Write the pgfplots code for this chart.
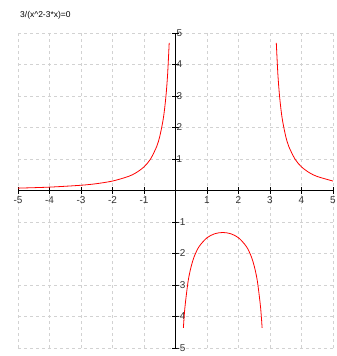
\documentclass[border=0pt]{standalone}
\usepackage{pgfplots}
\pgfplotsset{compat=1.18}
\usepackage{fontspec}
\setmainfont{Liberation Sans}
\begin{document}
\begin{tikzpicture}[x=1bp,y=1bp]
\useasboundingbox (0,0) rectangle (337,356);
\node[anchor=west, inner sep=0pt, font=\fontsize{8.5}{9}\selectfont] at (20,341) {3/(x\textasciicircum 2-3*x)=0};
\begin{axis}[
  at={(18bp,8bp)}, anchor=south west,
  scale only axis, width=315bp, height=315bp,
  xmin=-5, xmax=5, ymin=-5, ymax=5,
  axis lines=middle,
  axis line style={black, line width=1.1pt, -},
  xtick={-5,-4,-3,-2,-1,1,2,3,4,5},
  ytick={-5,-4,-3,-2,-1,1,2,3,4,5},
  tick align=center,
  major tick length=7bp,
  tick style={black, line width=0.8pt},
  grid=major,
  grid style={gray!35, dash pattern=on 3bp off 3bp, line width=0.6pt},
  /pgf/number format/assume math mode=true,
  ticklabel style={font=\fontsize{10}{11}\selectfont, text=black!80},
  xticklabel style={anchor=north, yshift=1bp},
  yticklabel style={anchor=west, xshift=1bp},
  clip=false,
]
\addplot[red, line width=0.8pt, smooth] coordinates {
  (-5,0.075) (-4,0.1071) (-3,0.1667) (-2.5,0.2182) (-2,0.3) (-1.5,0.4444)
  (-1.25,0.5647) (-1,0.75) (-0.8,0.9868) (-0.6,1.3889) (-0.5,1.7143)
  (-0.4,2.2059) (-0.35,2.5586) (-0.3,3.0303) (-0.25,3.6923) (-0.2,4.6875)
};
\addplot[red, line width=0.8pt, smooth] coordinates {
  (0.25,-4.3636) (0.3,-3.7037) (0.4,-2.8846) (0.5,-2.4) (0.6,-2.0833)
  (0.75,-1.7778) (1,-1.5) (1.25,-1.3714) (1.5,-1.3333) (1.75,-1.3714)
  (2,-1.5) (2.25,-1.7778) (2.4,-2.0833) (2.5,-2.4) (2.6,-2.8846)
  (2.7,-3.7037) (2.75,-4.3636)
};
\addplot[red, line width=0.8pt, smooth] coordinates {
  (3.2,4.6875) (3.25,3.6923) (3.3,3.0303) (3.35,2.5586) (3.4,2.2059)
  (3.5,1.7143) (3.6,1.3889) (3.8,0.9868) (4,0.75) (4.25,0.5647)
  (4.5,0.4444) (5,0.3)
};
\end{axis}
\end{tikzpicture}
\end{document}
